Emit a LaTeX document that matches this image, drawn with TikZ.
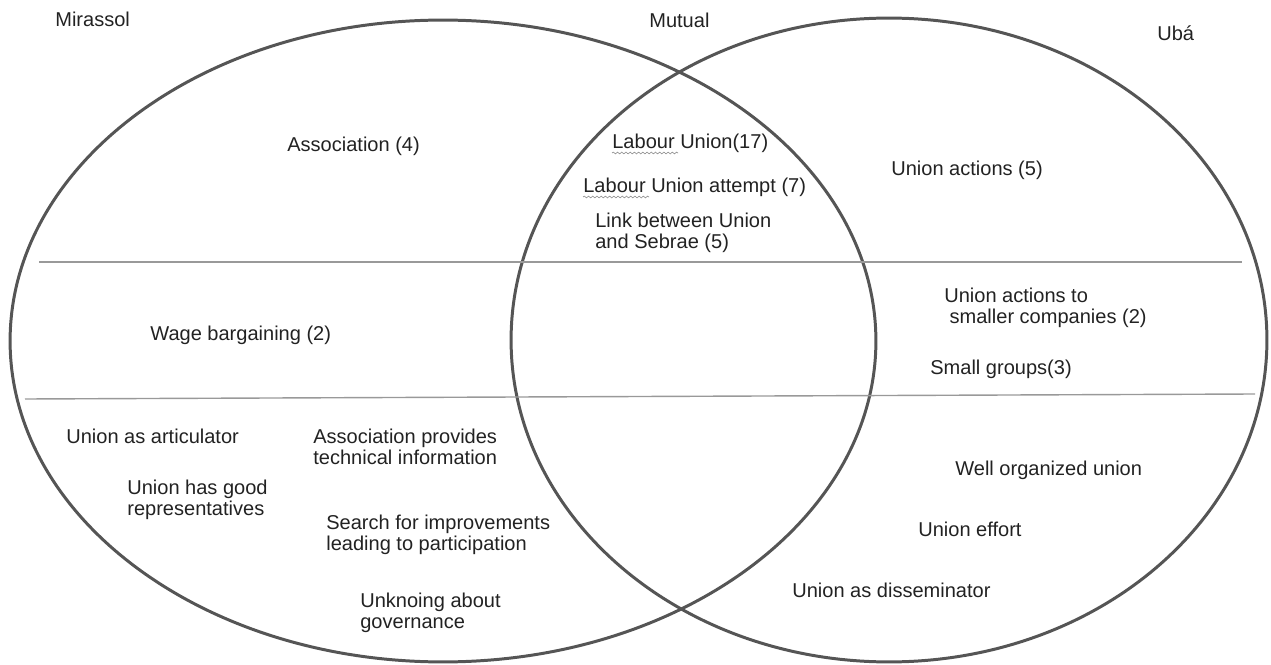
\documentclass[tikz,border=0pt]{standalone}
\usepackage{fontspec}
\setmainfont{Liberation Sans}
\usetikzlibrary{decorations.pathmorphing}
\definecolor{ink}{HTML}{222222}
\definecolor{rim}{HTML}{555555}
\tikzset{
  venn/.style = {draw=rim, line width=1.7pt},
  divider/.style = {draw=black!40, line width=0.8pt},
  tag/.style = {anchor=west, inner sep=0pt, text=ink, align=left,
    font=\fontsize{11.4}{11.9}\selectfont},
  squiggle/.style = {draw=black!45, line width=0.35pt,
    decorate, decoration={snake, amplitude=0.5pt, segment length=2.4pt}}
}

\begin{document}
\begin{tikzpicture}[x=0.02cm, y=-0.02cm]
  \useasboundingbox (0,0) rectangle (1271,665);
  % circles
  \draw[venn] (443,341) ellipse [x radius=8.66cm, y radius=6.42cm];
  \draw[venn] (889,340) ellipse [x radius=7.56cm, y radius=6.44cm];
  % rows
  \draw[divider] (39,262) -- (1242,262);
  \draw[divider] (25,399) -- (1255,394);
  % headings
  \node[tag] (mirassol) at (55,19) {Mirassol};
  \node[tag] (mutual) at (649,20) {Mutual};
  \node[tag] (uba) at (1157,33) {Ubá};
  % top row
  \node[tag] (assoc) at (287,146) {Association (4)};
  \node[tag] (lu17) at (612,143) {Labour Union(17)};
  \node[tag] (luattempt) at (583,187) {Labour Union attempt (7)};
  \node[tag] (link) at (595,233) {Link between Union\\and Sebrae (5)};
  \node[tag] (uactions) at (891,170) {Union actions (5)};
  \draw[squiggle] (612,153) -- (678,153);
  \draw[squiggle] (583,197) -- (649,197);
  % middle row
  \node[tag] (wage) at (150,335) {Wage bargaining (2)};
  \node[tag] (usmall) at (944,308) {Union actions to\\\hspace*{3pt}smaller companies (2)};
  \node[tag] (groups) at (930,369) {Small groups(3)};
  % bottom row
  \node[tag] (artic) at (66,436) {Union as articulator};
  \node[tag] (provides) at (313,447) {Association provides\\technical information};
  \node[tag] (goodrep) at (127,500) {Union has good\\representatives};
  \node[tag] (search) at (326,535) {Search for improvements\\leading to participation};
  \node[tag] (unknow) at (360,613) {Unknoing about\\governance};
  \node[tag] (wellorg) at (955,470) {Well organized union};
  \node[tag] (effort) at (918,529) {Union effort};
  \node[tag] (dissem) at (792,590) {Union as disseminator};
\end{tikzpicture}
\end{document}
